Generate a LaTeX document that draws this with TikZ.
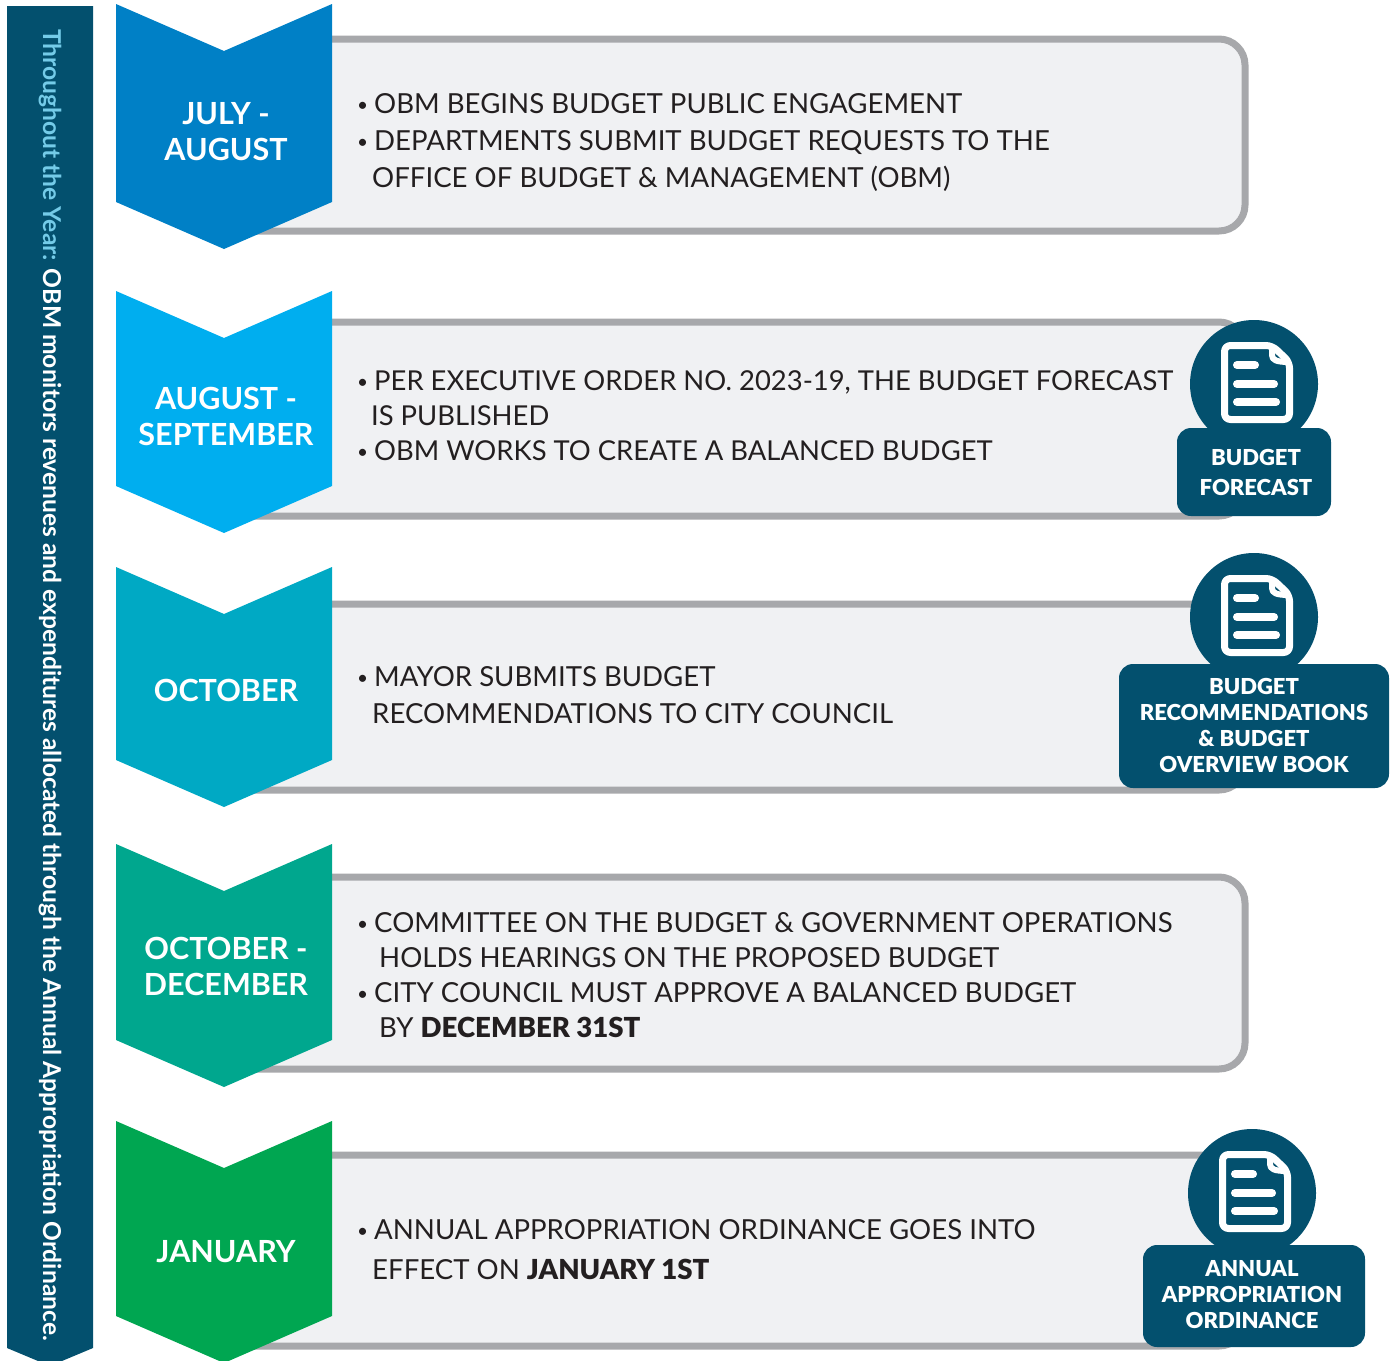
\documentclass[tikz,border=0pt]{standalone}
\usepackage{fontspec}
\setmainfont{Lato}
\newfontfamily\heavyfont{Lato Black}
\usepackage{xcolor}
\definecolor{navy}{HTML}{03506E}
\definecolor{skyline}{HTML}{74CBE8}
\definecolor{panelfill}{HTML}{F0F1F3}
\definecolor{panelline}{HTML}{A7A8AB}
\definecolor{inktext}{HTML}{231F20}
\definecolor{julyblue}{HTML}{0080C6}
\definecolor{augblue}{HTML}{00AEEF}
\definecolor{octteal}{HTML}{00A9C4}
\definecolor{decgreen}{HTML}{00A78E}
\definecolor{jangreen}{HTML}{00A651}
\newcommand{\bul}{\makebox[17pt][l]{\raisebox{2pt}{\fontsize{19}{19}\selectfont •}}}
\begin{document}
\begin{tikzpicture}[x=1pt,y=-1pt,
    panel/.style={draw=panelline,fill=panelfill,line width=7pt,rounded corners=26pt},
    month/.style={text=white,font=\bfseries\fontsize{30.5}{36}\selectfont,align=center},
    itemtext/.style={anchor=west,text=inktext,align=left,inner sep=0pt},
    badge/.style={fill=navy,draw=none,rounded corners=14pt,inner sep=0pt},
    badgetext/.style={text=white,align=center,inner sep=0pt,font=\heavyfont\fontsize{22}{26}\selectfont},
    disc/.style={circle,fill=navy,minimum size=128pt,inner sep=0pt},
    iconpic/.pic={
      \draw[white,line width=7pt,line join=round,rounded corners=6pt] (-29.5,-38.5) -- (18,-38.5) -- (35.5,-22) -- (35.5,35.5) -- (-29.5,35.5) -- cycle;
      \draw[white,line width=6pt,line join=round] (18,-38.5) -- (18,-29) .. controls (18,-24) and (22,-22) .. (35.5,-22);
      \draw[white,line width=8pt,line cap=round] (-17,-19) -- (1,-19);
      \draw[white,line width=8pt,line cap=round] (-17,0) -- (20,0);
      \draw[white,line width=8pt,line cap=round] (-17,18) -- (22,18);
    }]
  \useasboundingbox (0,0) rectangle (1391,1360);
  \begin{scope}
    \clip (0,0) rectangle (1391,1360);

    % sidebar
    \fill[navy] (7,6) -- (93,6) -- (93,1348) -- (50,1366) -- (7,1348) -- cycle;
    \node[rotate=-90,text=white,inner sep=0pt,font=\bfseries\fontsize{24.6}{28}\selectfont] (sidebar) at (50,685)
      {\textcolor{skyline}{Throughout the Year:} OBM monitors revenues and expenditures allocated through the Annual Appropriation Ordinance.};

    % panels
    \draw[panel] (332,39) -| (1245,231) -- (200,231);
    \draw[panel] (332,322) -| (1245,516) -- (200,516);
    \draw[panel] (332,604) -| (1245,790) -- (200,790);
    \draw[panel] (332,877) -| (1245,1069) -- (200,1069);
    \draw[panel] (332,1155) -| (1245,1346) -- (200,1346);

    % chevrons
    \fill[julyblue] (116,4) -- (224,51) -- (332,4) -- (332,202) -- (224,249) -- (116,202) -- cycle;
    \fill[augblue] (116,291) -- (224,338) -- (332,291) -- (332,486) -- (224,533) -- (116,486) -- cycle;
    \fill[octteal] (116,567) -- (224,614) -- (332,567) -- (332,760) -- (224,807) -- (116,760) -- cycle;
    \fill[decgreen] (116,844) -- (224,891) -- (332,844) -- (332,1040) -- (224,1087) -- (116,1040) -- cycle;
    \fill[jangreen] (116,1121) -- (224,1168) -- (332,1121) -- (332,1316) -- (224,1363) -- (116,1316) -- cycle;

    \node[month] (july) at (226,132) {JULY -\\AUGUST};
    \node[month] (august) at (226,416) {AUGUST -\\SEPTEMBER};
    \node[month] (october) at (226,690) {OCTOBER};
    \node[month] (december) at (226,966) {OCTOBER -\\DECEMBER};
    \node[month] (january) at (226,1252) {JANUARY};

    % panel texts
    \node[itemtext,font=\fontsize{27.6}{37}\selectfont] (julytext) at (357,143)
      {\bul OBM BEGINS BUDGET PUBLIC ENGAGEMENT\\
       \bul DEPARTMENTS SUBMIT BUDGET REQUESTS TO THE\\
       \hspace*{15pt}OFFICE OF BUDGET \& MANAGEMENT (OBM)};
    \node[itemtext,font=\fontsize{27.4}{35}\selectfont] (augusttext) at (357,416)
      {\bul PER EXECUTIVE ORDER NO. 2023-19, THE BUDGET FORECAST\\
       \hspace*{14pt}IS PUBLISHED\\
       \bul OBM WORKS TO CREATE A BALANCED BUDGET};
    \node[itemtext,font=\fontsize{27.6}{37}\selectfont] (octobertext) at (357,695)
      {\bul MAYOR SUBMITS BUDGET\\
       \hspace*{15pt}RECOMMENDATIONS TO CITY COUNCIL};
    \node[itemtext,font=\fontsize{27.6}{35}\selectfont] (decembertext) at (357,975)
      {\bul COMMITTEE ON THE BUDGET \& GOVERNMENT OPERATIONS\\
       \hspace*{22pt}HOLDS HEARINGS ON THE PROPOSED BUDGET\\
       \bul CITY COUNCIL MUST APPROVE A BALANCED BUDGET\\
       \hspace*{22pt}BY {\heavyfont DECEMBER 31ST}};
    \node[itemtext,font=\fontsize{27.6}{40}\selectfont] (januarytext) at (357,1250)
      {\bul ANNUAL APPROPRIATION ORDINANCE GOES INTO\\
       \hspace*{15pt}EFFECT ON {\heavyfont JANUARY 1ST}};

    % document badges
    \node[disc] (forecastdisc) at (1254,384) {};
    \node[badge,minimum width=154pt,minimum height=88pt] (forecast) at (1254,472) {};
    \node[badgetext,font=\heavyfont\fontsize{22}{30}\selectfont] (forecastlabel) at (1256,472) {BUDGET\\FORECAST};
    \pic at (forecastdisc.center) {iconpic};

    \node[disc] (overviewdisc) at (1254,617) {};
    \node[badge,minimum width=270pt,minimum height=124pt] (overview) at (1254,726) {};
    \node[badgetext] (overviewlabel) at (1254,725) {BUDGET\\RECOMMENDATIONS\\\& BUDGET\\OVERVIEW BOOK};
    \pic at (overviewdisc.center) {iconpic};

    \node[disc] (ordinancedisc) at (1252,1193) {};
    \node[badge,minimum width=222pt,minimum height=102pt] (ordinance) at (1254,1296) {};
    \node[badgetext] (ordinancelabel) at (1252,1295) {ANNUAL\\APPROPRIATION\\ORDINANCE};
    \pic at (ordinancedisc.center) {iconpic};
  \end{scope}
\end{tikzpicture}
\end{document}
